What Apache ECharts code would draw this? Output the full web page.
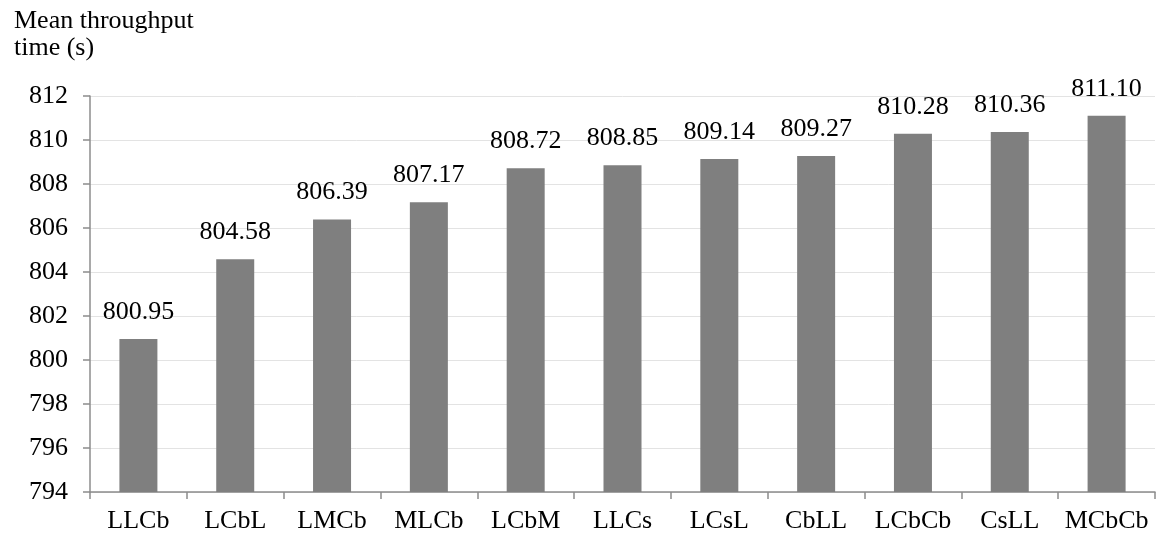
<!DOCTYPE html>
<html>
<head>
<meta charset="utf-8">
<script src="https://cdn.jsdelivr.net/npm/echarts@6/dist/echarts.min.js"></script>
<style>
  html, body { margin: 0; padding: 0; background: #fff; }
  #chart { width: 1156px; height: 536px; }
</style>
</head>
<body>
<div id="chart"></div>
<script>
// Sequencing rules and their mean throughput times
const categories = ['LLCb', 'LCbL', 'LMCb', 'MLCb', 'LCbM', 'LLCs', 'LCsL', 'CbLL', 'LCbCb', 'CsLL', 'MCbCb'];
const meanThroughput = [800.95, 804.58, 806.39, 807.17, 808.72, 808.85, 809.14, 809.27, 810.28, 810.36, 811.10];
const yTicks = { min: 794, max: 812, step: 2 };

const font = '"Liberation Serif", "Times New Roman", serif';
const chart = echarts.init(document.getElementById('chart'));

chart.setOption({
  animation: false,
  backgroundColor: '#ffffff',
  title: {
    text: 'Mean throughput\ntime (s)',
    left: 9,
    top: 3,
    textStyle: { fontFamily: font, fontSize: 26, fontWeight: 'normal', color: '#000', lineHeight: 27 }
  },
  grid: { left: 90, right: 1, top: 96, bottom: 44, containLabel: false },
  xAxis: {
    type: 'category',
    data: categories,
    axisLine: { lineStyle: { color: '#8c8c8c', width: 1.5 } },
    axisTick: { show: true, length: 7, interval: 0, alignWithLabel: false, lineStyle: { color: '#8c8c8c', width: 1.5 } },
    axisLabel: { interval: 0, fontFamily: font, fontSize: 26, color: '#000', margin: 16 }
  },
  yAxis: {
    type: 'value',
    min: yTicks.min,
    max: yTicks.max,
    interval: yTicks.step,
    axisLine: { show: true, lineStyle: { color: '#8c8c8c', width: 1.5 } },
    axisTick: { show: true, length: 7, lineStyle: { color: '#8c8c8c', width: 1.5 } },
    axisLabel: { fontFamily: font, fontSize: 26, color: '#000', margin: 22 },
    splitLine: { show: true, lineStyle: { color: '#e3e3e3', width: 1 } }
  },
  series: [{
    type: 'bar',
    data: meanThroughput,
    barWidth: 38,
    itemStyle: { color: '#7f7f7f' },
    label: {
      show: true,
      position: 'top',
      distance: 14,
      fontFamily: font,
      fontSize: 26,
      color: '#000',
      formatter: p => p.value.toFixed(2)
    }
  }]
});
</script>
</body>
</html>
